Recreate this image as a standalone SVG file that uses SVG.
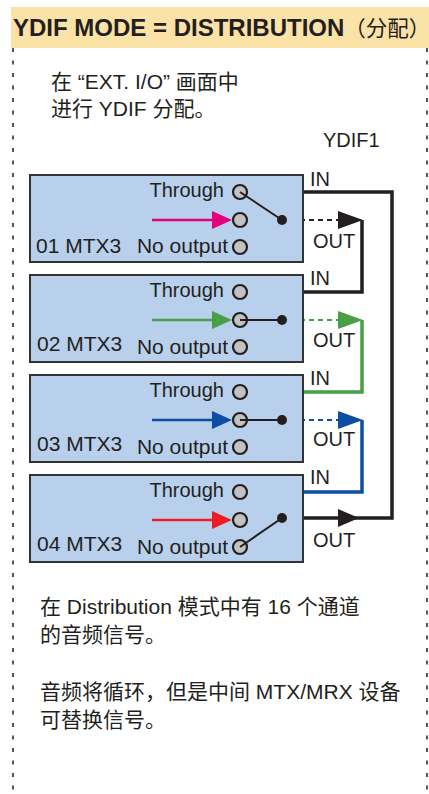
<svg xmlns="http://www.w3.org/2000/svg" width="429" height="794" viewBox="0 0 429 794">
<style>
.t{font-family:"Liberation Sans","Noto Sans CJK SC",sans-serif;font-size:20px;fill:#231f20}
.b{font-size:21px}
.box{fill:#b9d0ec;stroke:#333;stroke-width:2}
.pin{fill:#c2c2c2;stroke:#231f20;stroke-width:2.2}
.wire{fill:none;stroke-width:3.5;stroke-linejoin:miter}
.sw{fill:none;stroke:#231f20;stroke-width:2}
.dash{fill:none;stroke-width:2;stroke-dasharray:5 4}
.border{stroke:#555;stroke-width:2;stroke-dasharray:4 8.5}
</style>
<rect x="11" y="7" width="418" height="41" fill="#fbe2a6"/>
<text x="13" y="36" class="t" style="font-weight:bold;font-size:24px">YDIF MODE = DISTRIBUTION<tspan style="font-weight:normal;font-size:21.5px">（分配）</tspan></text>
<line class="border" x1="13" y1="48" x2="13" y2="794"/>
<line class="border" x1="427" y1="48" x2="427" y2="794"/>
<text class="t b" x="51" y="89">在 “EXT. I/O” 画面中</text>
<text class="t b" x="51" y="116">进行 YDIF 分配。</text>
<text class="t" x="323" y="147">YDIF1</text>

<g id="connectors">
  <polyline class="wire" stroke="#231f20" points="282,518 392,518 392,192 262,192"/>
  <polygon fill="#231f20" points="247,192 266,184 266,200"/>
  <polygon fill="#231f20" points="338,509 359,518 338,527"/>
  <line class="dash" stroke="#231f20" x1="282" y1="220" x2="340" y2="220"/>
  <polygon fill="#231f20" points="338,211 363,220 338,229"/>
  <polyline class="wire" stroke="#231f20" points="362,220 362,292 240,292"/>
  <line class="dash" stroke="#4a9e45" x1="282" y1="320" x2="340" y2="320"/>
  <polygon fill="#4a9e45" points="338,311 363,320 338,329"/>
  <polyline class="wire" stroke="#4a9e45" points="362,320 362,392 240,392"/>
  <line class="dash" stroke="#0b4ea2" x1="282" y1="420" x2="340" y2="420"/>
  <polygon fill="#0b4ea2" points="338,411 363,420 338,429"/>
  <polyline class="wire" stroke="#0b4ea2" points="362,420 362,492 240,492"/>
</g>

<g id="box1">
  <rect class="box" x="30" y="175" width="273" height="87"/>
  <text class="t" x="224" y="197" text-anchor="end">Through</text>
  <text class="t b" x="228" y="253" text-anchor="end">No output</text>
  <text class="t b" x="36" y="253">01 MTX3</text>
  <line x1="152" y1="220" x2="214" y2="220" stroke="#e5007e" stroke-width="2.5"/>
  <polygon fill="#e5007e" points="212,211 232,220 212,229"/>
  <circle class="pin" cx="240" cy="192" r="7"/>
  <circle class="pin" cx="240" cy="220" r="7"/>
  <circle class="pin" cx="240" cy="247" r="7"/>
  <line class="sw" x1="240" y1="192" x2="282" y2="220"/>
  <circle cx="282" cy="220" r="5" fill="#231f20"/>
</g>
<g id="box2">
  <rect class="box" x="30" y="275" width="273" height="87"/>
  <text class="t" x="224" y="297" text-anchor="end">Through</text>
  <text class="t b" x="228" y="354" text-anchor="end">No output</text>
  <text class="t b" x="37" y="351">02 MTX3</text>
  <line x1="152" y1="320" x2="214" y2="320" stroke="#4a9e45" stroke-width="2.5"/>
  <polygon fill="#4a9e45" points="212,311 232,320 212,329"/>
  <circle class="pin" cx="240" cy="292" r="7"/>
  <circle class="pin" cx="240" cy="320" r="7"/>
  <circle class="pin" cx="240" cy="347" r="7"/>
  <line class="sw" x1="240" y1="320" x2="282" y2="320"/>
  <circle cx="282" cy="320" r="5" fill="#231f20"/>
</g>
<g id="box3">
  <rect class="box" x="30" y="375" width="273" height="87"/>
  <text class="t" x="224" y="397" text-anchor="end">Through</text>
  <text class="t b" x="228" y="454" text-anchor="end">No output</text>
  <text class="t b" x="37" y="451">03 MTX3</text>
  <line x1="152" y1="420" x2="214" y2="420" stroke="#0b4ea2" stroke-width="2.5"/>
  <polygon fill="#0b4ea2" points="212,411 232,420 212,429"/>
  <circle class="pin" cx="240" cy="392" r="7"/>
  <circle class="pin" cx="240" cy="420" r="7"/>
  <circle class="pin" cx="240" cy="447" r="7"/>
  <line class="sw" x1="240" y1="420" x2="282" y2="420"/>
  <circle cx="282" cy="420" r="5" fill="#231f20"/>
</g>
<g id="box4">
  <rect class="box" x="30" y="475" width="273" height="87"/>
  <text class="t" x="224" y="497" text-anchor="end">Through</text>
  <text class="t b" x="228" y="554" text-anchor="end">No output</text>
  <text class="t b" x="37" y="551">04 MTX3</text>
  <line x1="152" y1="520" x2="214" y2="520" stroke="#ed1c24" stroke-width="2.5"/>
  <polygon fill="#ed1c24" points="212,511 232,520 212,529"/>
  <circle class="pin" cx="240" cy="492" r="7"/>
  <circle class="pin" cx="240" cy="520" r="7"/>
  <circle class="pin" cx="240" cy="547" r="7"/>
  <line class="sw" x1="240" y1="547" x2="282" y2="518"/>
  <circle cx="282" cy="518" r="5" fill="#231f20"/>
</g>

<g id="labels">
  <text class="t" x="310" y="186">IN</text>
  <text class="t" x="313" y="248">OUT</text>
  <text class="t" x="310" y="285">IN</text>
  <text class="t" x="313" y="347">OUT</text>
  <text class="t" x="310" y="385">IN</text>
  <text class="t" x="313" y="446">OUT</text>
  <text class="t" x="310" y="484">IN</text>
  <text class="t" x="313" y="547">OUT</text>
</g>

<text class="t b" x="40" y="614">在 Distribution 模式中有 16 个通道</text>
<text class="t b" x="40" y="642">的音频信号。</text>
<text class="t b" x="40" y="699">音频将循环，但是中间 MTX/MRX 设备</text>
<text class="t b" x="40" y="727">可替换信号。</text>
</svg>
